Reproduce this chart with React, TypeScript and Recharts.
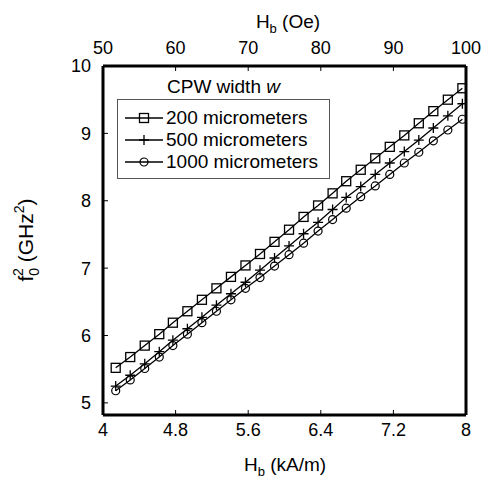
import { LineChart, Line, XAxis, YAxis, Legend } from "recharts";

// H_b in kA/m (measured every 2 Oe from 52 to 100 Oe)
const H_KAM = [
  4.14, 4.3, 4.46, 4.62, 4.77, 4.93, 5.09, 5.25, 5.41, 5.57, 5.73, 5.89, 6.05,
  6.21, 6.37, 6.53, 6.68, 6.84, 7.0, 7.16, 7.32, 7.48, 7.64, 7.8, 7.96,
];
// same field points in Oe (top axis)
const H_OE = [
  52, 54, 56, 58, 60, 62, 64, 66, 68, 70, 72, 74, 76, 78, 80, 82, 84, 86, 88,
  90, 92, 94, 96, 98, 100,
];

// f0^2 (GHz^2) for each CPW width
const W200 = [
  5.52, 5.68, 5.85, 6.02, 6.19, 6.36, 6.53, 6.7, 6.87, 7.04, 7.21, 7.39, 7.57,
  7.76, 7.93, 8.11, 8.29, 8.46, 8.63, 8.8, 8.97, 9.15, 9.33, 9.5, 9.67,
];
const W500 = [
  5.25, 5.41, 5.58, 5.76, 5.93, 6.1, 6.27, 6.45, 6.62, 6.79, 6.97, 7.15, 7.33,
  7.51, 7.68, 7.87, 8.05, 8.21, 8.39, 8.56, 8.73, 8.9, 9.08, 9.26, 9.44,
];
const W1000 = [
  5.18, 5.34, 5.51, 5.68, 5.85, 6.02, 6.19, 6.36, 6.53, 6.7, 6.86, 7.03, 7.2,
  7.37, 7.55, 7.72, 7.89, 8.06, 8.22, 8.39, 8.56, 8.72, 8.89, 9.05, 9.21,
];

const X_TICKS = [4, 4.8, 5.6, 6.4, 7.2, 8];
const OE_TICKS = [50, 60, 70, 80, 90, 100];
const Y_TICKS = [5, 6, 7, 8, 9, 10];

const SERIES = [
  { key: "w200", name: "200 micrometers", marker: "square" },
  { key: "w500", name: "500 micrometers", marker: "plus" },
  { key: "w1000", name: "1000 micrometers", marker: "circle" },
];

const data = H_KAM.map((x, i) => ({
  x,
  oe: H_OE[i],
  w200: W200[i],
  w500: W500[i],
  w1000: W1000[i],
}));

const FONT = "'Liberation Sans', Arial, Helvetica, sans-serif";

function Marker({ cx, cy, kind }: { cx?: number; cy?: number; kind: string }) {
  if (cx == null || cy == null) return null;
  if (kind === "square")
    return <rect x={cx - 4.5} y={cy - 4.5} width={9} height={9} fill="none" stroke="#000" strokeWidth={1.3} />;
  if (kind === "plus")
    return (
      <path
        d={`M${cx - 5},${cy}H${cx + 5}M${cx},${cy - 5}V${cy + 5}`}
        stroke="#000"
        strokeWidth={1.3}
        fill="none"
      />
    );
  return <circle cx={cx} cy={cy} r={4} fill="none" stroke="#000" strokeWidth={1.2} />;
}

function LegendBox() {
  return (
    <div style={{ width: 213, fontFamily: FONT, fontSize: 19, color: "#000" }}>
      <div style={{ height: 22, lineHeight: "22px", textAlign: "center" }}>
        CPW width <i>w</i>
      </div>
      <div
        style={{
          marginTop: 1,
          border: "1px solid #555",
          padding: "7px 0 5px 7px",
          background: "#fff",
        }}
      >
        {SERIES.map((s) => (
          <div key={s.key} style={{ height: 22, display: "flex", alignItems: "center" }}>
            <svg width={38} height={22}>
              <line x1={0} y1={11} x2={38} y2={11} stroke="#000" strokeWidth={1.3} />
              <Marker cx={19} cy={11} kind={s.marker} />
            </svg>
            <span style={{ marginLeft: 3, lineHeight: "22px" }}>{s.name}</span>
          </div>
        ))}
      </div>
    </div>
  );
}

const axisLine = { stroke: "#000", strokeWidth: 3 };
const tickLine = { stroke: "#000", strokeWidth: 1 };
const tickStyle = { fill: "#000", fontSize: 18 };

export default function App() {
  return (
    <div style={{ position: "absolute", left: 0, top: 0, fontFamily: FONT }}>
      <LineChart width={484} height={480} data={data} margin={{ top: 0, right: 0, bottom: 0, left: 0 }}>
        <XAxis
          dataKey="x"
          type="number"
          domain={[4, 8]}
          ticks={X_TICKS}
          height={65}
          axisLine={axisLine}
          tickLine={tickLine}
          tickSize={-5}
          tickMargin={13}
          tick={tickStyle}
          allowDataOverflow
          label={() => (
            <text x={285} y={471} textAnchor="middle" fontSize={19} fill="#000">
              H<tspan fontSize={13} dy={5}>b</tspan>
              <tspan dy={-5}> (kA/m)</tspan>
            </text>
          )}
        />
        <XAxis
          xAxisId="top"
          dataKey="oe"
          orientation="top"
          type="number"
          domain={[50, 100]}
          ticks={OE_TICKS}
          height={66}
          axisLine={axisLine}
          tickLine={tickLine}
          tickSize={-5}
          tickMargin={17}
          tick={tickStyle}
          allowDataOverflow
          label={() => (
            <text x={288} y={28} textAnchor="middle" fontSize={19} fill="#000">
              H<tspan fontSize={13} dy={5}>b</tspan>
              <tspan dy={-5}> (Oe)</tspan>
            </text>
          )}
        />
        <YAxis
          type="number"
          domain={[4.82, 10]}
          ticks={Y_TICKS}
          width={103}
          axisLine={axisLine}
          tickLine={tickLine}
          tickSize={-5}
          tickMargin={17}
          tick={tickStyle}
          allowDataOverflow
          label={() => (
            <text transform="translate(33,240) rotate(-90)" textAnchor="middle" fontSize={21} fill="#000">
              f<tspan fontSize={14} dy={6}>0</tspan>
              <tspan fontSize={14} dx={-8} dy={-16}>2</tspan>
              <tspan dy={10}> (GHz</tspan>
              <tspan fontSize={14} dy={-9}>2</tspan>
              <tspan dy={9}>)</tspan>
            </text>
          )}
        />
        <YAxis
          yAxisId="r"
          orientation="right"
          type="number"
          domain={[4.82, 10]}
          ticks={Y_TICKS}
          width={18}
          axisLine={axisLine}
          tickLine={tickLine}
          tickSize={-5}
          tick={false}
          allowDataOverflow
        />
        <Legend
          layout="vertical"
          align="center"
          verticalAlign="middle"
          content={() => <LegendBox />}
          wrapperStyle={{ position: "absolute", left: 117, top: 76, width: 213, height: "auto" }}
        />
        {SERIES.map((s) => (
          <Line
            key={s.key}
            dataKey={s.key}
            name={s.name}
            stroke="#000"
            strokeWidth={1.3}
            isAnimationActive={false}
            dot={(p: any) => <Marker key={`${s.key}-${p.index}`} cx={p.cx} cy={p.cy} kind={s.marker} />}
            activeDot={false}
          />
        ))}
        {/* invisible series so the Oe axis gets its own scale */}
        <Line
          xAxisId="top"
          yAxisId="r"
          dataKey="w200"
          stroke="none"
          dot={false}
          activeDot={false}
          legendType="none"
          isAnimationActive={false}
        />
      </LineChart>
    </div>
  );
}
